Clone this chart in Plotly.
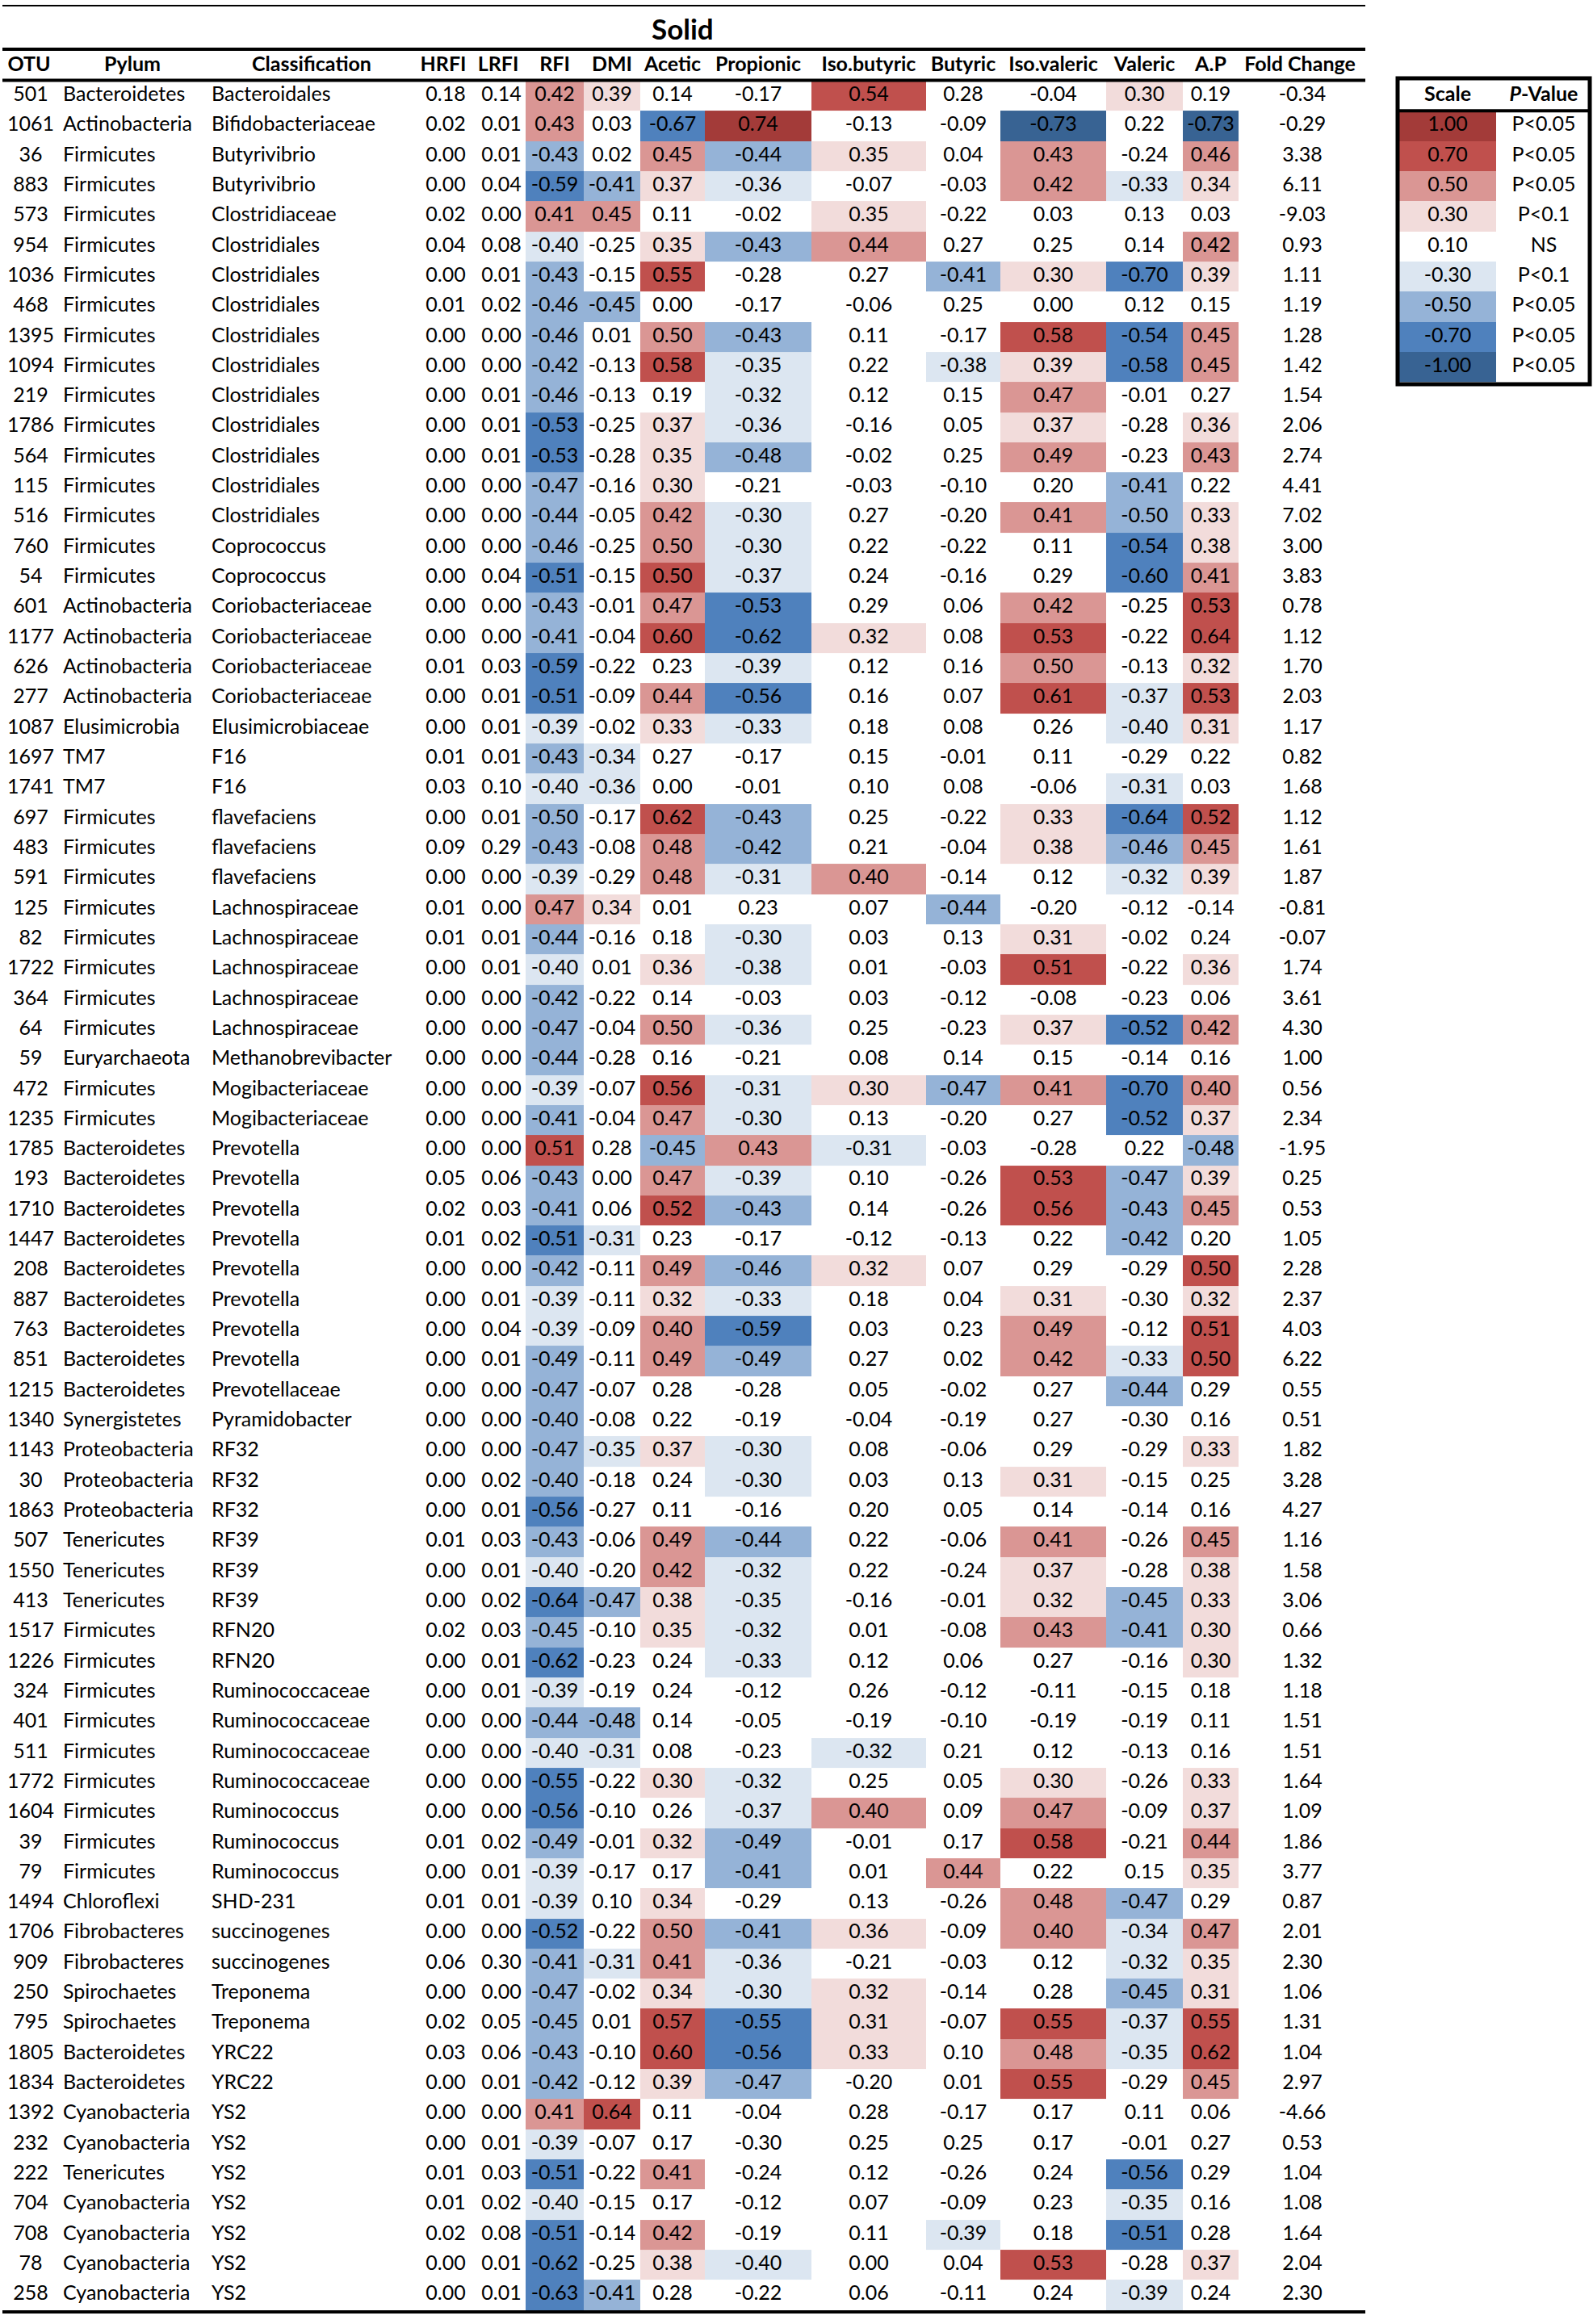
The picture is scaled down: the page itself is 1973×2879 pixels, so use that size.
import plotly.graph_objects as go

# ---- table data ----
otu = [501, 1061, 36, 883, 573, 954, 1036, 468, 1395, 1094,
       219, 1786, 564, 115, 516, 760, 54, 601, 1177, 626,
       277, 1087, 1697, 1741, 697, 483, 591, 125, 82, 1722,
       364, 64, 59, 472, 1235, 1785, 193, 1710, 1447, 208,
       887, 763, 851, 1215, 1340, 1143, 30, 1863, 507, 1550,
       413, 1517, 1226, 324, 401, 511, 1772, 1604, 39, 79,
       1494, 1706, 909, 250, 795, 1805, 1834, 1392, 232, 222,
       704, 708, 78, 258]

pylum = ["Bacteroidetes", "Actinobacteria", "Firmicutes", "Firmicutes", "Firmicutes",
         "Firmicutes", "Firmicutes", "Firmicutes", "Firmicutes", "Firmicutes",
         "Firmicutes", "Firmicutes", "Firmicutes", "Firmicutes", "Firmicutes",
         "Firmicutes", "Firmicutes", "Actinobacteria", "Actinobacteria", "Actinobacteria",
         "Actinobacteria", "Elusimicrobia", "TM7", "TM7", "Firmicutes",
         "Firmicutes", "Firmicutes", "Firmicutes", "Firmicutes", "Firmicutes",
         "Firmicutes", "Firmicutes", "Euryarchaeota", "Firmicutes", "Firmicutes",
         "Bacteroidetes", "Bacteroidetes", "Bacteroidetes", "Bacteroidetes", "Bacteroidetes",
         "Bacteroidetes", "Bacteroidetes", "Bacteroidetes", "Bacteroidetes", "Synergistetes",
         "Proteobacteria", "Proteobacteria", "Proteobacteria", "Tenericutes", "Tenericutes",
         "Tenericutes", "Firmicutes", "Firmicutes", "Firmicutes", "Firmicutes",
         "Firmicutes", "Firmicutes", "Firmicutes", "Firmicutes", "Firmicutes",
         "Chloroflexi", "Fibrobacteres", "Fibrobacteres", "Spirochaetes", "Spirochaetes",
         "Bacteroidetes", "Bacteroidetes", "Cyanobacteria", "Cyanobacteria", "Tenericutes",
         "Cyanobacteria", "Cyanobacteria", "Cyanobacteria", "Cyanobacteria"]

classification = ["Bacteroidales", "Bifidobacteriaceae", "Butyrivibrio", "Butyrivibrio", "Clostridiaceae",
                  "Clostridiales", "Clostridiales", "Clostridiales", "Clostridiales", "Clostridiales",
                  "Clostridiales", "Clostridiales", "Clostridiales", "Clostridiales", "Clostridiales",
                  "Coprococcus", "Coprococcus", "Coriobacteriaceae", "Coriobacteriaceae", "Coriobacteriaceae",
                  "Coriobacteriaceae", "Elusimicrobiaceae", "F16", "F16", "flavefaciens",
                  "flavefaciens", "flavefaciens", "Lachnospiraceae", "Lachnospiraceae", "Lachnospiraceae",
                  "Lachnospiraceae", "Lachnospiraceae", "Methanobrevibacter", "Mogibacteriaceae", "Mogibacteriaceae",
                  "Prevotella", "Prevotella", "Prevotella", "Prevotella", "Prevotella",
                  "Prevotella", "Prevotella", "Prevotella", "Prevotellaceae", "Pyramidobacter",
                  "RF32", "RF32", "RF32", "RF39", "RF39",
                  "RF39", "RFN20", "RFN20", "Ruminococcaceae", "Ruminococcaceae",
                  "Ruminococcaceae", "Ruminococcaceae", "Ruminococcus", "Ruminococcus", "Ruminococcus",
                  "SHD-231", "succinogenes", "succinogenes", "Treponema", "Treponema",
                  "YRC22", "YRC22", "YS2", "YS2", "YS2",
                  "YS2", "YS2", "YS2", "YS2"]

hrfi = [0.18, 0.02, 0.00, 0.00, 0.02, 0.04, 0.00, 0.01, 0.00, 0.00,
        0.00, 0.00, 0.00, 0.00, 0.00, 0.00, 0.00, 0.00, 0.00, 0.01,
        0.00, 0.00, 0.01, 0.03, 0.00, 0.09, 0.00, 0.01, 0.01, 0.00,
        0.00, 0.00, 0.00, 0.00, 0.00, 0.00, 0.05, 0.02, 0.01, 0.00,
        0.00, 0.00, 0.00, 0.00, 0.00, 0.00, 0.00, 0.00, 0.01, 0.00,
        0.00, 0.02, 0.00, 0.00, 0.00, 0.00, 0.00, 0.00, 0.01, 0.00,
        0.01, 0.00, 0.06, 0.00, 0.02, 0.03, 0.00, 0.00, 0.00, 0.01,
        0.01, 0.02, 0.00, 0.00]

lrfi = [0.14, 0.01, 0.01, 0.04, 0.00, 0.08, 0.01, 0.02, 0.00, 0.00,
        0.01, 0.01, 0.01, 0.00, 0.00, 0.00, 0.04, 0.00, 0.00, 0.03,
        0.01, 0.01, 0.01, 0.10, 0.01, 0.29, 0.00, 0.00, 0.01, 0.01,
        0.00, 0.00, 0.00, 0.00, 0.00, 0.00, 0.06, 0.03, 0.02, 0.00,
        0.01, 0.04, 0.01, 0.00, 0.00, 0.00, 0.02, 0.01, 0.03, 0.01,
        0.02, 0.03, 0.01, 0.01, 0.00, 0.00, 0.00, 0.00, 0.02, 0.01,
        0.01, 0.00, 0.30, 0.00, 0.05, 0.06, 0.01, 0.00, 0.01, 0.03,
        0.02, 0.08, 0.01, 0.01]

rfi = [0.42, 0.43, -0.43, -0.59, 0.41, -0.40, -0.43, -0.46, -0.46, -0.42,
       -0.46, -0.53, -0.53, -0.47, -0.44, -0.46, -0.51, -0.43, -0.41, -0.59,
       -0.51, -0.39, -0.43, -0.40, -0.50, -0.43, -0.39, 0.47, -0.44, -0.40,
       -0.42, -0.47, -0.44, -0.39, -0.41, 0.51, -0.43, -0.41, -0.51, -0.42,
       -0.39, -0.39, -0.49, -0.47, -0.40, -0.47, -0.40, -0.56, -0.43, -0.40,
       -0.64, -0.45, -0.62, -0.39, -0.44, -0.40, -0.55, -0.56, -0.49, -0.39,
       -0.39, -0.52, -0.41, -0.47, -0.45, -0.43, -0.42, 0.41, -0.39, -0.51,
       -0.40, -0.51, -0.62, -0.63]

dmi = [0.39, 0.03, 0.02, -0.41, 0.45, -0.25, -0.15, -0.45, 0.01, -0.13,
       -0.13, -0.25, -0.28, -0.16, -0.05, -0.25, -0.15, -0.01, -0.04, -0.22,
       -0.09, -0.02, -0.34, -0.36, -0.17, -0.08, -0.29, 0.34, -0.16, 0.01,
       -0.22, -0.04, -0.28, -0.07, -0.04, 0.28, 0.00, 0.06, -0.31, -0.11,
       -0.11, -0.09, -0.11, -0.07, -0.08, -0.35, -0.18, -0.27, -0.06, -0.20,
       -0.47, -0.10, -0.23, -0.19, -0.48, -0.31, -0.22, -0.10, -0.01, -0.17,
       0.10, -0.22, -0.31, -0.02, 0.01, -0.10, -0.12, 0.64, -0.07, -0.22,
       -0.15, -0.14, -0.25, -0.41]

acetic = [0.14, -0.67, 0.45, 0.37, 0.11, 0.35, 0.55, 0.00, 0.50, 0.58,
          0.19, 0.37, 0.35, 0.30, 0.42, 0.50, 0.50, 0.47, 0.60, 0.23,
          0.44, 0.33, 0.27, 0.00, 0.62, 0.48, 0.48, 0.01, 0.18, 0.36,
          0.14, 0.50, 0.16, 0.56, 0.47, -0.45, 0.47, 0.52, 0.23, 0.49,
          0.32, 0.40, 0.49, 0.28, 0.22, 0.37, 0.24, 0.11, 0.49, 0.42,
          0.38, 0.35, 0.24, 0.24, 0.14, 0.08, 0.30, 0.26, 0.32, 0.17,
          0.34, 0.50, 0.41, 0.34, 0.57, 0.60, 0.39, 0.11, 0.17, 0.41,
          0.17, 0.42, 0.38, 0.28]

propionic = [-0.17, 0.74, -0.44, -0.36, -0.02, -0.43, -0.28, -0.17, -0.43, -0.35,
             -0.32, -0.36, -0.48, -0.21, -0.30, -0.30, -0.37, -0.53, -0.62, -0.39,
             -0.56, -0.33, -0.17, -0.01, -0.43, -0.42, -0.31, 0.23, -0.30, -0.38,
             -0.03, -0.36, -0.21, -0.31, -0.30, 0.43, -0.39, -0.43, -0.17, -0.46,
             -0.33, -0.59, -0.49, -0.28, -0.19, -0.30, -0.30, -0.16, -0.44, -0.32,
             -0.35, -0.32, -0.33, -0.12, -0.05, -0.23, -0.32, -0.37, -0.49, -0.41,
             -0.29, -0.41, -0.36, -0.30, -0.55, -0.56, -0.47, -0.04, -0.30, -0.24,
             -0.12, -0.19, -0.40, -0.22]

iso_butyric = [0.54, -0.13, 0.35, -0.07, 0.35, 0.44, 0.27, -0.06, 0.11, 0.22,
               0.12, -0.16, -0.02, -0.03, 0.27, 0.22, 0.24, 0.29, 0.32, 0.12,
               0.16, 0.18, 0.15, 0.10, 0.25, 0.21, 0.40, 0.07, 0.03, 0.01,
               0.03, 0.25, 0.08, 0.30, 0.13, -0.31, 0.10, 0.14, -0.12, 0.32,
               0.18, 0.03, 0.27, 0.05, -0.04, 0.08, 0.03, 0.20, 0.22, 0.22,
               -0.16, 0.01, 0.12, 0.26, -0.19, -0.32, 0.25, 0.40, -0.01, 0.01,
               0.13, 0.36, -0.21, 0.32, 0.31, 0.33, -0.20, 0.28, 0.25, 0.12,
               0.07, 0.11, 0.00, 0.06]

butyric = [0.28, -0.09, 0.04, -0.03, -0.22, 0.27, -0.41, 0.25, -0.17, -0.38,
           0.15, 0.05, 0.25, -0.10, -0.20, -0.22, -0.16, 0.06, 0.08, 0.16,
           0.07, 0.08, -0.01, 0.08, -0.22, -0.04, -0.14, -0.44, 0.13, -0.03,
           -0.12, -0.23, 0.14, -0.47, -0.20, -0.03, -0.26, -0.26, -0.13, 0.07,
           0.04, 0.23, 0.02, -0.02, -0.19, -0.06, 0.13, 0.05, -0.06, -0.24,
           -0.01, -0.08, 0.06, -0.12, -0.10, 0.21, 0.05, 0.09, 0.17, 0.44,
           -0.26, -0.09, -0.03, -0.14, -0.07, 0.10, 0.01, -0.17, 0.25, -0.26,
           -0.09, -0.39, 0.04, -0.11]

iso_valeric = [-0.04, -0.73, 0.43, 0.42, 0.03, 0.25, 0.30, 0.00, 0.58, 0.39,
               0.47, 0.37, 0.49, 0.20, 0.41, 0.11, 0.29, 0.42, 0.53, 0.50,
               0.61, 0.26, 0.11, -0.06, 0.33, 0.38, 0.12, -0.20, 0.31, 0.51,
               -0.08, 0.37, 0.15, 0.41, 0.27, -0.28, 0.53, 0.56, 0.22, 0.29,
               0.31, 0.49, 0.42, 0.27, 0.27, 0.29, 0.31, 0.14, 0.41, 0.37,
               0.32, 0.43, 0.27, -0.11, -0.19, 0.12, 0.30, 0.47, 0.58, 0.22,
               0.48, 0.40, 0.12, 0.28, 0.55, 0.48, 0.55, 0.17, 0.17, 0.24,
               0.23, 0.18, 0.53, 0.24]

valeric = [0.30, 0.22, -0.24, -0.33, 0.13, 0.14, -0.70, 0.12, -0.54, -0.58,
           -0.01, -0.28, -0.23, -0.41, -0.50, -0.54, -0.60, -0.25, -0.22, -0.13,
           -0.37, -0.40, -0.29, -0.31, -0.64, -0.46, -0.32, -0.12, -0.02, -0.22,
           -0.23, -0.52, -0.14, -0.70, -0.52, 0.22, -0.47, -0.43, -0.42, -0.29,
           -0.30, -0.12, -0.33, -0.44, -0.30, -0.29, -0.15, -0.14, -0.26, -0.28,
           -0.45, -0.41, -0.16, -0.15, -0.19, -0.13, -0.26, -0.09, -0.21, 0.15,
           -0.47, -0.34, -0.32, -0.45, -0.37, -0.35, -0.29, 0.11, -0.01, -0.56,
           -0.35, -0.51, -0.28, -0.39]

a_p = [0.19, -0.73, 0.46, 0.34, 0.03, 0.42, 0.39, 0.15, 0.45, 0.45,
       0.27, 0.36, 0.43, 0.22, 0.33, 0.38, 0.41, 0.53, 0.64, 0.32,
       0.53, 0.31, 0.22, 0.03, 0.52, 0.45, 0.39, -0.14, 0.24, 0.36,
       0.06, 0.42, 0.16, 0.40, 0.37, -0.48, 0.39, 0.45, 0.20, 0.50,
       0.32, 0.51, 0.50, 0.29, 0.16, 0.33, 0.25, 0.16, 0.45, 0.38,
       0.33, 0.30, 0.30, 0.18, 0.11, 0.16, 0.33, 0.37, 0.44, 0.35,
       0.29, 0.47, 0.35, 0.31, 0.55, 0.62, 0.45, 0.06, 0.27, 0.29,
       0.16, 0.28, 0.37, 0.24]

fold_change = [-0.34, -0.29, 3.38, 6.11, -9.03, 0.93, 1.11, 1.19, 1.28, 1.42,
               1.54, 2.06, 2.74, 4.41, 7.02, 3.00, 3.83, 0.78, 1.12, 1.70,
               2.03, 1.17, 0.82, 1.68, 1.12, 1.61, 1.87, -0.81, -0.07, 1.74,
               3.61, 4.30, 1.00, 0.56, 2.34, -1.95, 0.25, 0.53, 1.05, 2.28,
               2.37, 4.03, 6.22, 0.55, 0.51, 1.82, 3.28, 4.27, 1.16, 1.58,
               3.06, 0.66, 1.32, 1.18, 1.51, 1.51, 1.64, 1.09, 1.86, 3.77,
               0.87, 2.01, 2.30, 1.06, 1.31, 1.04, 2.97, -4.66, 0.53, 1.04,
               1.08, 1.64, 2.04, 2.30]

# significance class of each cell (0 = NS, 1 = P<0.1, 2..4 = P<0.05 shades)
rfi_sig = [2, 2, 2, 3, 2, 1, 2, 2, 2, 2, 2, 3, 3, 2, 2, 2, 3, 2, 2, 3,
           3, 1, 2, 1, 2, 2, 1, 2, 2, 1, 2, 2, 2, 1, 2, 3, 2, 2, 3, 2,
           1, 1, 2, 2, 2, 2, 2, 3, 2, 1, 3, 2, 3, 1, 2, 1, 3, 3, 2, 1,
           1, 3, 2, 2, 2, 2, 2, 2, 1, 3, 1, 3, 3, 3]
dmi_sig = [1, 0, 0, 2, 2, 0, 0, 2, 0, 0, 0, 0, 0, 0, 0, 0, 0, 0, 0, 0,
           0, 0, 1, 1, 0, 0, 0, 1, 0, 0, 0, 0, 0, 0, 0, 0, 0, 0, 1, 0,
           0, 0, 0, 0, 0, 1, 0, 0, 0, 0, 2, 0, 0, 0, 2, 1, 0, 0, 0, 0,
           0, 0, 1, 0, 0, 0, 0, 3, 0, 0, 0, 0, 0, 2]
acetic_sig = [0, 3, 2, 1, 0, 1, 3, 0, 2, 3, 0, 1, 1, 1, 2, 2, 3, 2, 3, 0,
              2, 1, 0, 0, 3, 2, 2, 0, 0, 1, 0, 2, 0, 3, 2, 2, 2, 3, 0, 2,
              1, 2, 2, 0, 0, 1, 0, 0, 2, 2, 1, 1, 0, 0, 0, 0, 1, 0, 1, 0,
              1, 2, 2, 1, 3, 3, 1, 0, 0, 2, 0, 2, 1, 0]
propionic_sig = [0, 4, 2, 1, 0, 2, 0, 0, 2, 1, 1, 1, 2, 0, 1, 1, 1, 3, 3, 1,
                 3, 1, 0, 0, 2, 2, 1, 0, 1, 1, 0, 1, 0, 1, 1, 2, 1, 2, 0, 2,
                 1, 3, 2, 0, 0, 1, 1, 0, 2, 1, 1, 1, 1, 0, 0, 0, 1, 1, 2, 2,
                 0, 2, 1, 1, 3, 3, 2, 0, 0, 0, 0, 0, 1, 0]
iso_butyric_sig = [3, 0, 1, 0, 1, 2, 0, 0, 0, 0, 0, 0, 0, 0, 0, 0, 0, 0, 1, 0,
                   0, 0, 0, 0, 0, 0, 2, 0, 0, 0, 0, 0, 0, 1, 0, 1, 0, 0, 0, 1,
                   0, 0, 0, 0, 0, 0, 0, 0, 0, 0, 0, 0, 0, 0, 0, 1, 0, 2, 0, 0,
                   0, 1, 0, 1, 1, 1, 0, 0, 0, 0, 0, 0, 0, 0]
butyric_sig = [0, 0, 0, 0, 0, 0, 2, 0, 0, 1, 0, 0, 0, 0, 0, 0, 0, 0, 0, 0,
               0, 0, 0, 0, 0, 0, 0, 2, 0, 0, 0, 0, 0, 2, 0, 0, 0, 0, 0, 0,
               0, 0, 0, 0, 0, 0, 0, 0, 0, 0, 0, 0, 0, 0, 0, 0, 0, 0, 0, 2,
               0, 0, 0, 0, 0, 0, 0, 0, 0, 0, 0, 1, 0, 0]
iso_valeric_sig = [0, 4, 2, 2, 0, 0, 1, 0, 3, 1, 2, 1, 2, 0, 2, 0, 0, 2, 3, 2,
                   3, 0, 0, 0, 1, 1, 0, 0, 1, 3, 0, 1, 0, 2, 0, 0, 3, 3, 0, 0,
                   1, 2, 2, 0, 0, 0, 1, 0, 2, 1, 1, 2, 0, 0, 0, 0, 1, 2, 3, 0,
                   2, 2, 0, 0, 3, 2, 3, 0, 0, 0, 0, 0, 3, 0]
valeric_sig = [1, 0, 0, 1, 0, 0, 3, 0, 3, 3, 0, 0, 0, 2, 2, 3, 3, 0, 0, 0,
               1, 1, 0, 1, 3, 2, 1, 0, 0, 0, 0, 3, 0, 3, 3, 0, 2, 2, 2, 0,
               0, 0, 1, 2, 0, 0, 0, 0, 0, 0, 2, 2, 0, 0, 0, 0, 0, 0, 0, 0,
               2, 1, 1, 2, 1, 1, 0, 0, 0, 3, 1, 3, 0, 1]
a_p_sig = [0, 4, 2, 1, 0, 2, 1, 0, 2, 2, 0, 1, 2, 0, 1, 1, 2, 3, 3, 1,
           3, 1, 0, 0, 3, 2, 1, 0, 0, 1, 0, 2, 0, 2, 1, 2, 1, 2, 0, 3,
           1, 3, 3, 0, 0, 1, 0, 0, 2, 1, 1, 1, 1, 0, 0, 0, 1, 1, 2, 1,
           0, 2, 1, 1, 3, 3, 2, 0, 0, 0, 0, 0, 1, 0]

corr_names = ["RFI", "DMI", "Acetic", "Propionic", "Iso.butyric", "Butyric", "Iso.valeric", "Valeric", "A.P"]
corr_values = [rfi, dmi, acetic, propionic, iso_butyric, butyric, iso_valeric, valeric, a_p]
corr_sig = [rfi_sig, dmi_sig, acetic_sig, propionic_sig, iso_butyric_sig,
            butyric_sig, iso_valeric_sig, valeric_sig, a_p_sig]

# legend (scale key)
scale_labels = ["1.00", "0.70", "0.50", "0.30", "0.10", "-0.30", "-0.50", "-0.70", "-1.00"]
scale_levels = [4, 3, 2, 1, 0, -1, -2, -3, -4]
p_labels = ["P<0.05", "P<0.05", "P<0.05", "P<0.1", "NS", "P<0.1", "P<0.05", "P<0.05", "P<0.05"]

# ---- layout constants (pixels / row units) ----
W, H = 1973, 2879
ROW_H = 37.32
ROW0 = 118.7          # pixel centre of first data row
FONT = "Lato, 'Open Sans', sans-serif"
FS = 25

# colours from most negative to most positive level
shades = ["#386393", "#4F81BD", "#95B3D7", "#DCE6F1", "#FFFFFF",
          "#F2DCDB", "#DA9694", "#C0504D", "#A33B39"]
colorscale = []
for i, c in enumerate(shades):
    colorscale += [[i / 9, c], [(i + 1) / 9, c]]

cell_edges = [651, 723, 793, 873, 1005, 1147, 1239, 1370, 1465, 1534]
cell_mid = [(a + b) / 2 for a, b in zip(cell_edges[:-1], cell_edges[1:])]

n = len(otu)
rows = list(range(n))

z = []
for r in rows:
    z.append([(1 if vals[r] > 0 else -1) * sig[r] for vals, sig in zip(corr_values, corr_sig)])

fig = go.Figure()

fig.add_trace(go.Heatmap(
    z=z, x=cell_edges, y=rows,
    colorscale=colorscale, zmin=-4.5, zmax=4.5,
    showscale=False, hoverinfo="skip"
))

# legend colour column
fig.add_trace(go.Heatmap(
    z=[[lv] for lv in scale_levels], x=[1733, 1853], y=list(range(1, 10)),
    colorscale=colorscale, zmin=-4.5, zmax=4.5,
    showscale=False, hoverinfo="skip"
))


def text_col(x, ys, labels, pos="middle center", size=FS):
    return go.Scatter(
        x=[x] * len(labels), y=ys, mode="text", text=labels,
        textposition=pos, textfont=dict(family=FONT, size=size, color="black"),
        hoverinfo="skip", showlegend=False
    )


fmt = lambda v: f"{v:.2f}"

fig.add_trace(text_col(38, rows, [str(o) for o in otu]))
fig.add_trace(text_col(78, rows, pylum, pos="middle right"))
fig.add_trace(text_col(262, rows, classification, pos="middle right"))
fig.add_trace(text_col(552, rows, [fmt(v) for v in hrfi]))
fig.add_trace(text_col(621, rows, [fmt(v) for v in lrfi]))
for xc, vals in zip(cell_mid, corr_values):
    fig.add_trace(text_col(xc, rows, [fmt(v) for v in vals]))
fig.add_trace(text_col(1613, rows, [fmt(v) for v in fold_change]))

# header row
header_names = ["OTU", "Pylum", "Classification", "HRFI", "LRFI"] + corr_names + ["Fold Change"]
header_x = [36, 164, 386, 549, 617] + cell_mid + [1610]
fig.add_trace(go.Scatter(
    x=header_x, y=[-1] * len(header_names), mode="text",
    text=[f"<b>{h}</b>" for h in header_names], textposition="middle center",
    textfont=dict(family=FONT, size=25, color="black"),
    hoverinfo="skip", showlegend=False
))

# legend texts
fig.add_trace(text_col(1793, list(range(1, 10)), scale_labels))
fig.add_trace(text_col(1912, list(range(1, 10)), p_labels))
fig.add_trace(go.Scatter(
    x=[1793, 1912], y=[0, 0], mode="text",
    text=["<b>Scale</b>", "<b><i>P</i>-Value</b>"], textposition="middle center",
    textfont=dict(family=FONT, size=25, color="black"),
    hoverinfo="skip", showlegend=False
))

fig.add_annotation(x=845, y=-2.24, text="<b>Solid</b>", showarrow=False,
                   font=dict(family=FONT, size=35, color="black"))


def py(p):
    # pixel row -> row units
    return (p - ROW0) / ROW_H


line_specs = [(7, 2), (61, 4), (99.5, 4), (2864, 4)]
for p, w in line_specs:
    fig.add_shape(type="line", x0=3, x1=1691, y0=py(p), y1=py(p),
                  line=dict(color="black", width=w))

fig.add_shape(type="rect", x0=1731, x1=1969, y0=py(97), y1=py(476),
              line=dict(color="black", width=5))
fig.add_shape(type="line", x0=1731, x1=1969, y0=0.5, y1=0.5,
              line=dict(color="black", width=4))

fig.update_layout(
    width=W, height=H,
    margin=dict(l=0, r=0, t=0, b=0),
    paper_bgcolor="white", plot_bgcolor="white",
    showlegend=False,
    xaxis=dict(range=[0, W], visible=False, fixedrange=True),
    yaxis=dict(range=[py(H), py(0)], visible=False, fixedrange=True),
)

fig.write_html("out.html", config={"displayModeBar": False},
               post_script="document.body.style.margin='0';")
